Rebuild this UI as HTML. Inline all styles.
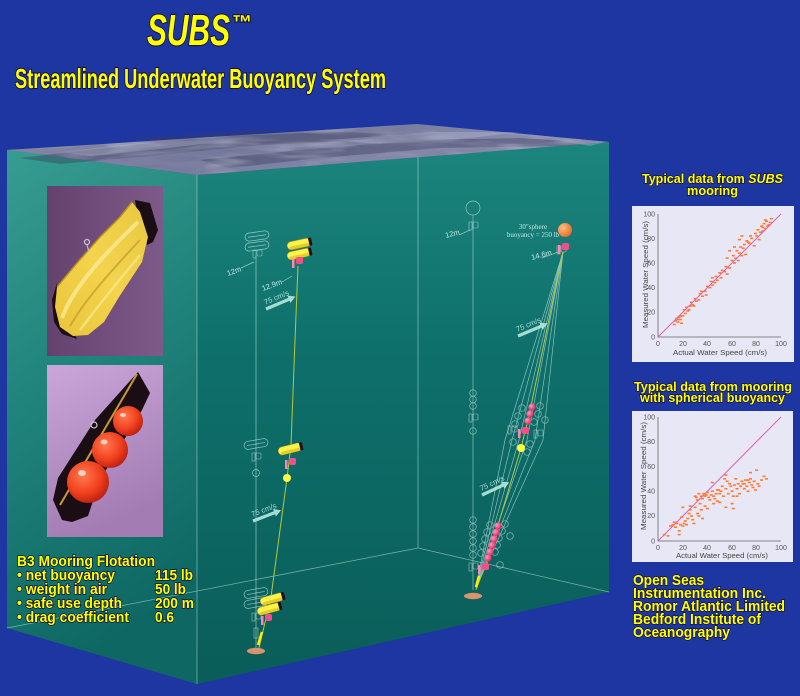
<!DOCTYPE html>
<html><head><meta charset="utf-8">
<style>html,body{margin:0;padding:0;background:#1e36a2;}svg{display:block}</style></head>
<body>
<svg width="800" height="696" viewBox="0 0 800 696" xmlns="http://www.w3.org/2000/svg" font-family="'Liberation Sans', Arial, sans-serif">
<defs>
 <linearGradient id="lf" x1="0" y1="0" x2="0.25" y2="1">
  <stop offset="0" stop-color="#379c91"/><stop offset="0.5" stop-color="#1f827a"/><stop offset="1" stop-color="#0e6762"/>
 </linearGradient>
 <linearGradient id="rf" gradientUnits="userSpaceOnUse" x1="0" y1="142" x2="0" y2="684">
  <stop offset="0" stop-color="#1c857d"/><stop offset="0.4" stop-color="#0e6f6a"/><stop offset="1" stop-color="#0a5d59"/>
 </linearGradient>
 <linearGradient id="sea" x1="0" y1="0" x2="1" y2="0.4">
  <stop offset="0" stop-color="#8a8eae"/><stop offset="0.5" stop-color="#74789a"/><stop offset="1" stop-color="#9094b4"/>
 </linearGradient>
 <filter id="tex" x="0" y="0" width="100%" height="100%">
  <feTurbulence type="fractalNoise" baseFrequency="0.012 0.09" numOctaves="3" seed="5" result="n"/>
  <feColorMatrix in="n" type="matrix" values="0 0 0 0 0.22  0 0 0 0 0.23  0 0 0 0 0.36  3.5 0 0 0 -1.55"/>
  <feComposite in2="SourceGraphic" operator="in"/>
 </filter>
 <filter id="tex2" x="0" y="0" width="100%" height="100%">
  <feTurbulence type="fractalNoise" baseFrequency="0.02 0.12" numOctaves="2" seed="11" result="n"/>
  <feColorMatrix in="n" type="matrix" values="0 0 0 0 0.78  0 0 0 0 0.8  0 0 0 0 0.9  0 2.2 0 0 -1.2"/>
  <feComposite in2="SourceGraphic" operator="in"/>
 </filter>
 <linearGradient id="p1" x1="0" y1="0" x2="1" y2="0">
  <stop offset="0" stop-color="#64426e"/><stop offset="1" stop-color="#7e5a88"/>
 </linearGradient>
 <linearGradient id="p2" x1="0" y1="0" x2="0.3" y2="1">
  <stop offset="0" stop-color="#caa6da"/><stop offset="1" stop-color="#a27cb2"/>
 </linearGradient>
 <linearGradient id="hull" x1="0" y1="1" x2="1" y2="0">
  <stop offset="0" stop-color="#e8c43a"/><stop offset="0.5" stop-color="#f4d44c"/><stop offset="1" stop-color="#e8c840"/>
 </linearGradient>
 <radialGradient id="red" cx="0.38" cy="0.35" r="0.7">
  <stop offset="0" stop-color="#ff7a50"/><stop offset="0.6" stop-color="#f2401e"/><stop offset="1" stop-color="#b81e10"/>
 </radialGradient>
 <radialGradient id="org" cx="0.35" cy="0.35" r="0.7">
  <stop offset="0" stop-color="#ffc080"/><stop offset="1" stop-color="#e86a28"/>
 </radialGradient>
 <radialGradient id="pk" cx="0.35" cy="0.35" r="0.7">
  <stop offset="0" stop-color="#ff9ac0"/><stop offset="1" stop-color="#e0205a"/>
 </radialGradient>
 <g id="flt">
  <rect x="-12" y="-4" width="24" height="8" rx="4" fill="#fff24c" stroke="#b89a00" stroke-width="0.5"/>
  <rect x="-10" y="0.8" width="20" height="3" rx="1.5" fill="#e6cc28"/>
  <rect x="10" y="-4" width="3" height="8" rx="1" fill="#2a0a14"/>
 </g>
 <g id="gflt" fill="none" stroke="#c8ecea" stroke-width="0.7" opacity="0.7">
  <rect x="-12" y="-4" width="24" height="8" rx="4"/>
  <line x1="-9" y1="0" x2="9" y2="0"/>
 </g>
 <g id="pinst">
  <rect x="-5" y="-3" width="2.5" height="9" fill="#ff86b4"/>
  <rect x="-1" y="-5" width="7" height="7" rx="2" fill="#f0508a"/>
 </g>
 <g id="ginst" fill="none" stroke="#c8ecea" stroke-width="0.6" opacity="0.7">
  <rect x="-4" y="-4" width="3" height="8"/>
  <rect x="0" y="-4" width="5" height="6" rx="1"/>
 </g>
</defs>

<rect width="800" height="696" fill="#1e36a2"/>

<!-- Title -->
<g fill="#ffff00" stroke="#16123c" stroke-width="2.2" paint-order="stroke" font-weight="bold">
 <text x="147" y="45" font-size="44" font-style="italic" textLength="83" lengthAdjust="spacingAndGlyphs">SUBS</text>
 <text x="232" y="29" font-size="20" textLength="20" lengthAdjust="spacingAndGlyphs">™</text>
 <text x="15" y="88" font-size="28" textLength="371" lengthAdjust="spacingAndGlyphs">Streamlined Underwater Buoyancy System</text>
</g>

<!-- Box faces -->
<polygon points="7,150 197,175 197,684 7,628" fill="url(#lf)"/>
<polygon points="197,175 609,142 609,592 197,684" fill="url(#rf)"/>
<polygon points="7,150 417,124 609,142 197,175" fill="url(#sea)"/>
<g opacity="0.4" fill="#3a3c5c">
 <polygon points="20,158 120,146 230,136 330,132 410,134 360,140 250,146 150,156 60,164"/>
 <polygon points="200,160 300,150 420,140 520,138 600,143 560,146 440,148 320,158 230,168"/>
 <polygon points="120,140 220,132 300,128 250,134 160,140"/>
</g>
<g opacity="0.3" fill="#c8cce4">
 <polygon points="60,152 150,142 230,140 170,148 90,156"/>
 <polygon points="330,140 430,132 520,132 470,138 380,144"/>
 <polygon points="560,141 605,142 590,146"/>
</g>
<polygon points="7,150 417,124 609,142 197,175" fill="#000" filter="url(#tex)"/>
<polygon points="7,150 417,124 609,142 197,175" fill="#000" filter="url(#tex2)" opacity="0.45"/>
<!-- inner edges -->
<g stroke="#b6e2dc" stroke-width="0.8" opacity="0.6" fill="none">
 <line x1="197" y1="175" x2="197" y2="684"/>
 <line x1="418" y1="157" x2="418" y2="548"/>
 <line x1="7" y1="628" x2="418" y2="548"/>
 <line x1="418" y1="548" x2="609" y2="592"/>
</g>

<!-- Photo 1 -->
<rect x="47" y="186" width="116" height="170" fill="url(#p1)"/>
<polygon points="135,200 150,203 158,230 153,242 147,245 145,230 137,213" fill="#1a0d14"/>
<polygon points="57,283 52,300 54,322 62,334 77,339 72,330 60,320 58,300" fill="#1a0d14"/>
<polygon points="132,202 140,212 148,237 142,262 119,297 104,322 88,335 73,336 60,327 55,307 57,287 77,263 100,237 120,217" fill="url(#hull)"/>
<path d="M62,318 C72,290 100,258 138,222" fill="none" stroke="#fae890" stroke-width="4" opacity="0.85"/>
<path d="M70,326 C85,300 110,272 140,240" fill="none" stroke="#c8a030" stroke-width="2" opacity="0.8"/>
<path d="M80,330 C95,310 115,285 140,255" fill="none" stroke="#fae890" stroke-width="2.5" opacity="0.7"/>
<path d="M57,287 L77,263 L100,237 L120,217 L132,202" fill="none" stroke="#b89020" stroke-width="1.5"/>
<circle cx="87" cy="242" r="2.5" fill="none" stroke="#ccc" stroke-width="1.2"/>
<line x1="87" y1="245" x2="89" y2="252" stroke="#bbb" stroke-width="1.2"/>

<!-- Photo 2 -->
<rect x="47" y="365" width="116" height="172" fill="url(#p2)"/>
<polygon points="138,372 150,393 142,410 100,480 88,516 72,522 62,520 53,500 58,478 95,420" fill="#1a0d14"/>
<line x1="60" y1="505" x2="137" y2="374" stroke="#c89a30" stroke-width="2"/>
<circle cx="128" cy="421" r="15" fill="url(#red)"/>
<circle cx="110" cy="450" r="18" fill="url(#red)"/>
<circle cx="88" cy="482" r="21" fill="url(#red)"/>
<ellipse cx="123" cy="415" rx="3" ry="2" fill="#ffd0c0"/>
<ellipse cx="104" cy="442" rx="3.5" ry="2.5" fill="#ffd0c0"/>
<ellipse cx="82" cy="473" rx="4" ry="3" fill="#ffd0c0"/>
<circle cx="94" cy="425" r="3" fill="none" stroke="#ccc" stroke-width="1.2"/>

<!-- B3 text -->
<g fill="#ffff00" stroke="#16123c" stroke-width="1.6" paint-order="stroke" font-weight="bold" font-size="15">
 <text x="17" y="566" textLength="138" lengthAdjust="spacingAndGlyphs">B3 Mooring Flotation</text>
 <text x="17" y="580" textLength="98" lengthAdjust="spacingAndGlyphs">• net buoyancy</text>
 <text x="17" y="594" textLength="90" lengthAdjust="spacingAndGlyphs">• weight in air</text>
 <text x="17" y="608" textLength="105" lengthAdjust="spacingAndGlyphs">• safe use depth</text>
 <text x="17" y="622" textLength="112" lengthAdjust="spacingAndGlyphs">• drag coefficient</text>
 <text x="155" y="580" textLength="38" lengthAdjust="spacingAndGlyphs">115 lb</text>
 <text x="155" y="594" textLength="31" lengthAdjust="spacingAndGlyphs">50 lb</text>
 <text x="155" y="608" textLength="39" lengthAdjust="spacingAndGlyphs">200 m</text>
 <text x="155" y="622" textLength="19" lengthAdjust="spacingAndGlyphs">0.6</text>
</g>

<!-- LEFT MOORING (SUBS) -->
<g stroke="#c8ecea" stroke-width="0.7" opacity="0.7" fill="none">
 <line x1="256" y1="256" x2="256" y2="648"/>
 <circle cx="256" cy="473" r="3.5"/>
 <line x1="241" y1="268" x2="254" y2="262"/>
 <line x1="282" y1="282" x2="292" y2="276"/>
</g>
<use href="#gflt" transform="translate(257,236) rotate(-8)"/>
<use href="#gflt" transform="translate(257,246) rotate(-8)"/>
<use href="#ginst" transform="translate(257,254)"/>
<use href="#gflt" transform="translate(256,444) rotate(-10)"/>
<use href="#ginst" transform="translate(256,457)"/>
<use href="#gflt" transform="translate(256,593) rotate(-10)"/>
<use href="#gflt" transform="translate(256,603) rotate(-10)"/>
<use href="#ginst" transform="translate(256,617)"/>
<rect x="254" y="628" width="4" height="10" fill="none" stroke="#c8ecea" stroke-width="0.6" opacity="0.7"/>

<path d="M298,266 L295,340 L291,445 L287,478 L271,597 L259,648" fill="none" stroke="#b6c840" stroke-width="1"/>
<use href="#flt" transform="translate(299,244) rotate(-12)"/>
<use href="#flt" transform="translate(299,254) rotate(-12)"/>
<use href="#pinst" transform="translate(297,262)"/>
<use href="#flt" transform="translate(290,449) rotate(-14)"/>
<use href="#pinst" transform="translate(290,463)"/>
<circle cx="287" cy="478" r="4" fill="#ffff40"/>
<use href="#flt" transform="translate(272,599) rotate(-15)"/>
<use href="#flt" transform="translate(269,609) rotate(-15)"/>
<use href="#pinst" transform="translate(266,619)"/>
<line x1="262" y1="632" x2="258" y2="645" stroke="#ffee00" stroke-width="2.5"/>
<ellipse cx="256" cy="651" rx="9" ry="3.2" fill="#d8946c"/>

<g fill="#c0e8e4" font-size="7.5">
 <text transform="translate(228,276) rotate(-20)">12m</text>
 <text transform="translate(263,291) rotate(-20)">12.9m</text>
</g>

<!-- arrows -->
<g fill="#a6dcd4">
 <g transform="translate(266,309) rotate(-23)"><rect x="0" y="-1.6" width="26" height="3.2"/><polygon points="25,-4 32,0 25,4"/><text x="1" y="-4" font-size="7.5">75 cm/s</text></g>
 <g transform="translate(253,521) rotate(-21)"><rect x="0" y="-1.6" width="24" height="3.2"/><polygon points="23,-4 30,0 23,4"/><text x="1" y="-4" font-size="7.5">75 cm/s</text></g>
 <g transform="translate(518,336) rotate(-23)"><rect x="0" y="-1.6" width="26" height="3.2"/><polygon points="25,-4 32,0 25,4"/><text x="1" y="-4" font-size="7.5">75 cm/s</text></g>
 <g transform="translate(482,495) rotate(-25)"><rect x="0" y="-1.6" width="24" height="3.2"/><polygon points="23,-4 30,0 23,4"/><text x="1" y="-4" font-size="7.5">75 cm/s</text></g>
</g>

<!-- RIGHT MOORING (sphere) -->
<g stroke="#c8ecea" stroke-width="0.7" opacity="0.65" fill="none">
 <line x1="473" y1="215" x2="473" y2="590"/>
 <circle cx="473" cy="208" r="7"/>
 <line x1="459" y1="235" x2="470" y2="230"/>
 <circle cx="473" cy="393" r="3.3"/><circle cx="473" cy="399.5" r="3.3"/><circle cx="473" cy="406" r="3.3"/>
 <circle cx="473" cy="431" r="3.3"/>
 <circle cx="473" cy="520" r="3.3"/><circle cx="473" cy="527" r="3.3"/><circle cx="473" cy="534" r="3.3"/>
 <circle cx="473" cy="541" r="3.3"/><circle cx="473" cy="548" r="3.3"/><circle cx="473" cy="555" r="3.3"/>
 <line x1="558" y1="252" x2="542" y2="258"/>
 <path d="M563,252 L505,440 L476,588"/>
 <path d="M563,252 L512,440 L476,588"/>
 <path d="M563,252 L519,440 L476,588"/>
 <path d="M563,252 L527,440 L476,588"/>
 <path d="M563,252 L535,440 L476,588"/>
 <path d="M563,252 L543,440 L476,588"/>
 <circle cx="522" cy="408" r="3.3"/><circle cx="540" cy="406" r="3.3"/><circle cx="518" cy="416" r="3.3"/><circle cx="538" cy="414" r="3.3"/>
 <circle cx="515" cy="424" r="3.3"/><circle cx="534" cy="422" r="3.3"/><circle cx="545" cy="420" r="3.3"/>
 <circle cx="513" cy="442" r="3.3"/><circle cx="530" cy="444" r="3.3"/><circle cx="527" cy="452" r="3.3"/>
 <circle cx="490" cy="525" r="3.3"/><circle cx="505" cy="524" r="3.3"/><circle cx="487" cy="532" r="3.3"/><circle cx="502" cy="531" r="3.3"/>
 <circle cx="485" cy="539" r="3.3"/><circle cx="499" cy="538" r="3.3"/><circle cx="510" cy="536" r="3.3"/>
 <circle cx="483" cy="546" r="3.3"/><circle cx="497" cy="545" r="3.3"/><circle cx="481" cy="553" r="3.3"/><circle cx="495" cy="552" r="3.3"/>
 <circle cx="500" cy="565" r="3.3"/>
</g>
<use href="#ginst" transform="translate(473,226)"/>
<use href="#ginst" transform="translate(473,418)"/>
<use href="#ginst" transform="translate(473,567)"/>
<use href="#ginst" transform="translate(512,430)"/>
<use href="#ginst" transform="translate(538,434)"/>
<use href="#ginst" transform="translate(561,250)"/>

<path d="M563,252 L528,420 L521,448 L490,552 L476,590" fill="none" stroke="#b6c840" stroke-width="1"/>
<circle cx="565" cy="230" r="7" fill="url(#org)"/>
<use href="#pinst" transform="translate(563,248)"/>
<circle cx="532" cy="407" r="3.6" fill="url(#pk)"/>
<circle cx="530" cy="414" r="3.6" fill="url(#pk)"/>
<circle cx="528" cy="421" r="3.6" fill="url(#pk)"/>
<use href="#pinst" transform="translate(523,432)"/>
<circle cx="521" cy="448" r="4" fill="#ffff40"/>
<circle cx="498" cy="526" r="3.6" fill="url(#pk)"/>
<circle cx="496" cy="532.5" r="3.6" fill="url(#pk)"/>
<circle cx="494" cy="539" r="3.6" fill="url(#pk)"/>
<circle cx="492" cy="545.5" r="3.6" fill="url(#pk)"/>
<circle cx="490" cy="552" r="3.6" fill="url(#pk)"/>
<circle cx="488" cy="558" r="3.6" fill="url(#pk)"/>
<use href="#pinst" transform="translate(483,568)"/>
<line x1="479" y1="576" x2="476" y2="587" stroke="#ffee00" stroke-width="2.5"/>
<ellipse cx="473" cy="596" rx="9" ry="3.2" fill="#d8946c"/>

<g fill="#c0e8e4" font-size="7.5">
 <text transform="translate(446,238) rotate(-15)">12m</text>
 <text transform="translate(532,260) rotate(-15)">14.6m</text>
</g>
<g fill="#c8e8e4" font-size="7" font-family="'Liberation Serif', serif" text-anchor="middle">
 <text x="533" y="229">30"sphere</text>
 <text x="533" y="237">buoyancy = 250 lb</text>
</g>

<!-- Chart titles -->
<g fill="#ffff00" stroke="#16123c" stroke-width="1.4" paint-order="stroke" font-weight="bold" font-size="12.5">
 <text x="642" y="183" textLength="141" lengthAdjust="spacingAndGlyphs">Typical data from <tspan font-style="italic">SUBS</tspan></text>
 <text x="687" y="195" textLength="51" lengthAdjust="spacingAndGlyphs">mooring</text>
 <text x="634" y="391" textLength="158" lengthAdjust="spacingAndGlyphs">Typical data from mooring</text>
 <text x="640" y="402" textLength="145" lengthAdjust="spacingAndGlyphs">with spherical buoyancy</text>
</g>
<rect x="632" y="206" width="162" height="156" fill="#e7e7f5"/>
<rect x="632" y="411" width="161" height="151" fill="#e7e7f5"/>

<g stroke="#666" stroke-width="0.8" fill="none">
 <polyline points="658,214 658,337 781,337"/>
 <polyline points="658,417 658,541 781,541"/>
</g>
<g fill="#555" font-size="7">
 <g text-anchor="end">
  <text x="655" y="216.5">100</text><text x="655" y="241">80</text><text x="655" y="265.5">60</text>
  <text x="655" y="290">40</text><text x="655" y="314.5">20</text><text x="655" y="339.5">0</text>
  <text x="655" y="419.5">100</text><text x="655" y="444">80</text><text x="655" y="469">60</text>
  <text x="655" y="493.5">40</text><text x="655" y="518">20</text><text x="655" y="543.5">0</text>
 </g>
 <g text-anchor="middle">
  <text x="658" y="346">0</text><text x="683" y="346">20</text><text x="707" y="346">40</text>
  <text x="732" y="346">60</text><text x="756" y="346">80</text><text x="781" y="346">100</text>
  <text x="658" y="550">0</text><text x="683" y="550">20</text><text x="707" y="550">40</text>
  <text x="732" y="550">60</text><text x="756" y="550">80</text><text x="781" y="550">100</text>
 </g>
</g>
<g fill="#444" font-size="7.5">
 <text x="673" y="355" textLength="94" lengthAdjust="spacingAndGlyphs">Actual Water Speed (cm/s)</text>
 <text x="676" y="558" textLength="92" lengthAdjust="spacingAndGlyphs">Actual Water Speed (cm/s)</text>
 <text transform="translate(648,328) rotate(-90)" textLength="107" lengthAdjust="spacingAndGlyphs">Measured Water Speed (cm/s)</text>
 <text transform="translate(646,530) rotate(-90)" textLength="108" lengthAdjust="spacingAndGlyphs">Measured Water Speed (cm/s)</text>
</g>

<g transform="translate(658,337) scale(1.23,-1.23)">
 <g fill="#ff7a30">
  <rect x="12" y="9.5" width="2.4" height="1.3"/><rect x="13" y="12.5" width="2.4" height="1.3"/><rect x="14" y="14.5" width="2.4" height="1.3"/>
  <rect x="15" y="11.5" width="2.4" height="1.3"/><rect x="16" y="15.5" width="2.4" height="1.3"/><rect x="17" y="13.5" width="2.4" height="1.3"/>
  <rect x="18" y="10.5" width="2.4" height="1.3"/><rect x="19" y="16.5" width="2.4" height="1.3"/><rect x="20" y="21.5" width="2.4" height="1.3"/>
  <rect x="21" y="18.5" width="2.4" height="1.3"/><rect x="22" y="23.5" width="2.4" height="1.3"/><rect x="23" y="20.5" width="2.4" height="1.3"/>
  <rect x="25" y="24.5" width="2.4" height="1.3"/><rect x="26" y="27.5" width="2.4" height="1.3"/><rect x="27" y="25.5" width="2.4" height="1.3"/>
  <rect x="29" y="30.5" width="2.4" height="1.3"/><rect x="30" y="28.5" width="2.4" height="1.3"/><rect x="32" y="29.5" width="2.4" height="1.3"/>
  <rect x="33" y="34.5" width="2.4" height="1.3"/><rect x="35" y="32.5" width="2.4" height="1.3"/><rect x="37" y="36.5" width="2.4" height="1.3"/>
  <rect x="38" y="33.5" width="2.4" height="1.3"/><rect x="39" y="40.5" width="2.4" height="1.3"/><rect x="41" y="39.5" width="2.4" height="1.3"/>
  <rect x="42" y="44.5" width="2.4" height="1.3"/><rect x="43" y="41.5" width="2.4" height="1.3"/><rect x="45" y="43.5" width="2.4" height="1.3"/>
  <rect x="46" y="48.5" width="2.4" height="1.3"/><rect x="47" y="45.5" width="2.4" height="1.3"/><rect x="49" y="51.5" width="2.4" height="1.3"/>
  <rect x="50" y="47.5" width="2.4" height="1.3"/><rect x="51" y="53.5" width="2.4" height="1.3"/><rect x="53" y="52.5" width="2.4" height="1.3"/>
  <rect x="54" y="56.5" width="2.4" height="1.3"/><rect x="55" y="50.5" width="2.4" height="1.3"/><rect x="57" y="55.5" width="2.4" height="1.3"/>
  <rect x="59" y="61.5" width="2.4" height="1.3"/><rect x="60" y="65.5" width="2.4" height="1.3"/><rect x="61" y="59.5" width="2.4" height="1.3"/>
  <rect x="62" y="63.5" width="2.4" height="1.3"/><rect x="63" y="69.5" width="2.4" height="1.3"/><rect x="64" y="61.5" width="2.4" height="1.3"/>
  <rect x="65" y="67.5" width="2.4" height="1.3"/><rect x="66" y="72.5" width="2.4" height="1.3"/><rect x="67" y="65.5" width="2.4" height="1.3"/>
  <rect x="68" y="71.5" width="2.4" height="1.3"/><rect x="69" y="74.5" width="2.4" height="1.3"/><rect x="70" y="66.5" width="2.4" height="1.3"/>
  <rect x="71" y="77.5" width="2.4" height="1.3"/><rect x="73" y="75.5" width="2.4" height="1.3"/><rect x="74" y="81.5" width="2.4" height="1.3"/>
  <rect x="75" y="79.5" width="2.4" height="1.3"/><rect x="77" y="73.5" width="2.4" height="1.3"/><rect x="78" y="83.5" width="2.4" height="1.3"/>
  <rect x="79" y="81.5" width="2.4" height="1.3"/><rect x="80" y="86.5" width="2.4" height="1.3"/><rect x="81" y="78.5" width="2.4" height="1.3"/>
  <rect x="82" y="84.5" width="2.4" height="1.3"/><rect x="83" y="89.5" width="2.4" height="1.3"/><rect x="84" y="85.5" width="2.4" height="1.3"/>
  <rect x="85" y="91.5" width="2.4" height="1.3"/><rect x="86" y="87.5" width="2.4" height="1.3"/><rect x="87" y="93.5" width="2.4" height="1.3"/>
  <rect x="88" y="89.5" width="2.4" height="1.3"/><rect x="89" y="90.5" width="2.4" height="1.3"/><rect x="90" y="92.5" width="2.4" height="1.3"/>
  <rect x="91" y="95.5" width="2.4" height="1.3"/><rect x="84" y="88.5" width="2.4" height="1.3"/><rect x="86" y="94.5" width="2.4" height="1.3"/>
  <rect x="61" y="72.5" width="2.4" height="1.3"/><rect x="57" y="69.5" width="2.4" height="1.3"/><rect x="72" y="76.5" width="2.4" height="1.3"/>
  <rect x="65" y="78.5" width="2.4" height="1.3"/><rect x="55" y="63.5" width="2.4" height="1.3"/><rect x="43" y="47.5" width="2.4" height="1.3"/>
  <rect x="34" y="36.5" width="2.4" height="1.3"/><rect x="28" y="24.5" width="2.4" height="1.3"/><rect x="24" y="21.5" width="2.4" height="1.3"/>
  <rect x="17" y="16.5" width="2.4" height="1.3"/><rect x="15" y="13.5" width="2.4" height="1.3"/><rect x="67" y="81.5" width="2.4" height="1.3"/>
 </g>
 <line x1="0" y1="0" x2="100" y2="100" stroke="#e060b0" stroke-width="1" vector-effect="non-scaling-stroke"/>
</g>

<g transform="translate(658,541) scale(1.23,-1.24)">
 <line x1="0" y1="0" x2="100" y2="100" stroke="#e060b0" stroke-width="1" vector-effect="non-scaling-stroke"/>
 <g fill="#ff7a30">
  <rect x="4" y="4.5" width="2.4" height="1.3"/><rect x="7" y="3.5" width="2.4" height="1.3"/><rect x="9" y="11.5" width="2.4" height="1.3"/>
  <rect x="11" y="12.5" width="2.4" height="1.3"/><rect x="12" y="14.5" width="2.4" height="1.3"/><rect x="13" y="10.5" width="2.4" height="1.3"/>
  <rect x="14" y="13.5" width="2.4" height="1.3"/><rect x="16" y="7.5" width="2.4" height="1.3"/><rect x="16" y="4.5" width="2.4" height="1.3"/>
  <rect x="17" y="12.5" width="2.4" height="1.3"/><rect x="18" y="18.5" width="2.4" height="1.3"/><rect x="19" y="11.5" width="2.4" height="1.3"/>
  <rect x="20" y="13.5" width="2.4" height="1.3"/><rect x="21" y="15.5" width="2.4" height="1.3"/><rect x="22" y="12.5" width="2.4" height="1.3"/>
  <rect x="23" y="17.5" width="2.4" height="1.3"/><rect x="24" y="21.5" width="2.4" height="1.3"/><rect x="25" y="24.5" width="2.4" height="1.3"/>
  <rect x="26" y="19.5" width="2.4" height="1.3"/><rect x="27" y="16.5" width="2.4" height="1.3"/><rect x="28" y="13.5" width="2.4" height="1.3"/>
  <rect x="29" y="35.5" width="2.4" height="1.3"/><rect x="30" y="34.5" width="2.4" height="1.3"/><rect x="31" y="32.5" width="2.4" height="1.3"/>
  <rect x="32" y="37.5" width="2.4" height="1.3"/><rect x="33" y="29.5" width="2.4" height="1.3"/><rect x="34" y="35.5" width="2.4" height="1.3"/>
  <rect x="35" y="33.5" width="2.4" height="1.3"/><rect x="36" y="37.5" width="2.4" height="1.3"/><rect x="37" y="35.5" width="2.4" height="1.3"/>
  <rect x="38" y="36.5" width="2.4" height="1.3"/><rect x="39" y="38.5" width="2.4" height="1.3"/><rect x="40" y="34.5" width="2.4" height="1.3"/>
  <rect x="41" y="32.5" width="2.4" height="1.3"/><rect x="42" y="36.5" width="2.4" height="1.3"/><rect x="43" y="39.5" width="2.4" height="1.3"/>
  <rect x="44" y="35.5" width="2.4" height="1.3"/><rect x="45" y="33.5" width="2.4" height="1.3"/><rect x="46" y="37.5" width="2.4" height="1.3"/>
  <rect x="47" y="31.5" width="2.4" height="1.3"/><rect x="48" y="40.5" width="2.4" height="1.3"/><rect x="49" y="37.5" width="2.4" height="1.3"/>
  <rect x="50" y="39.5" width="2.4" height="1.3"/><rect x="51" y="43.5" width="2.4" height="1.3"/><rect x="52" y="35.5" width="2.4" height="1.3"/>
  <rect x="53" y="49.5" width="2.4" height="1.3"/><rect x="54" y="41.5" width="2.4" height="1.3"/><rect x="55" y="47.5" width="2.4" height="1.3"/>
  <rect x="56" y="37.5" width="2.4" height="1.3"/><rect x="57" y="45.5" width="2.4" height="1.3"/><rect x="58" y="43.5" width="2.4" height="1.3"/>
  <rect x="59" y="39.5" width="2.4" height="1.3"/><rect x="60" y="35.5" width="2.4" height="1.3"/><rect x="61" y="44.5" width="2.4" height="1.3"/>
  <rect x="62" y="49.5" width="2.4" height="1.3"/><rect x="63" y="41.5" width="2.4" height="1.3"/><rect x="64" y="45.5" width="2.4" height="1.3"/>
  <rect x="65" y="37.5" width="2.4" height="1.3"/><rect x="66" y="43.5" width="2.4" height="1.3"/><rect x="67" y="47.5" width="2.4" height="1.3"/>
  <rect x="68" y="45.5" width="2.4" height="1.3"/><rect x="69" y="41.5" width="2.4" height="1.3"/><rect x="70" y="48.5" width="2.4" height="1.3"/>
  <rect x="71" y="43.5" width="2.4" height="1.3"/><rect x="72" y="39.5" width="2.4" height="1.3"/><rect x="73" y="46.5" width="2.4" height="1.3"/>
  <rect x="74" y="49.5" width="2.4" height="1.3"/><rect x="75" y="44.5" width="2.4" height="1.3"/><rect x="76" y="42.5" width="2.4" height="1.3"/>
  <rect x="77" y="47.5" width="2.4" height="1.3"/><rect x="78" y="40.5" width="2.4" height="1.3"/><rect x="79" y="56.5" width="2.4" height="1.3"/>
  <rect x="80" y="45.5" width="2.4" height="1.3"/><rect x="81" y="43.5" width="2.4" height="1.3"/><rect x="83" y="48.5" width="2.4" height="1.3"/>
  <rect x="85" y="51.5" width="2.4" height="1.3"/><rect x="87" y="49.5" width="2.4" height="1.3"/><rect x="74" y="54.5" width="2.4" height="1.3"/>
  <rect x="29" y="26.5" width="2.4" height="1.3"/><rect x="31" y="21.5" width="2.4" height="1.3"/><rect x="34" y="24.5" width="2.4" height="1.3"/>
  <rect x="37" y="27.5" width="2.4" height="1.3"/><rect x="39" y="25.5" width="2.4" height="1.3"/><rect x="32" y="19.5" width="2.4" height="1.3"/>
  <rect x="35" y="17.5" width="2.4" height="1.3"/><rect x="44" y="29.5" width="2.4" height="1.3"/><rect x="49" y="30.5" width="2.4" height="1.3"/>
  <rect x="54" y="26.5" width="2.4" height="1.3"/><rect x="59" y="29.5" width="2.4" height="1.3"/><rect x="19" y="26.5" width="2.4" height="1.3"/>
  <rect x="25" y="27.5" width="2.4" height="1.3"/><rect x="43" y="46.5" width="2.4" height="1.3"/><rect x="54" y="52.5" width="2.4" height="1.3"/>
  <rect x="47" y="40.5" width="2.4" height="1.3"/><rect x="63" y="35.5" width="2.4" height="1.3"/><rect x="69" y="45.5" width="2.4" height="1.3"/>
  <rect x="72" y="48.5" width="2.4" height="1.3"/><rect x="60" y="25.5" width="2.4" height="1.3"/>
 </g>
</g>

<!-- Credits -->
<g fill="#ffff00" stroke="#16123c" stroke-width="1.4" paint-order="stroke" font-weight="bold" font-size="15">
 <text x="633" y="585" textLength="71" lengthAdjust="spacingAndGlyphs">Open Seas</text>
 <text x="633" y="598" textLength="133" lengthAdjust="spacingAndGlyphs">Instrumentation Inc.</text>
 <text x="633" y="611" textLength="152" lengthAdjust="spacingAndGlyphs">Romor Atlantic Limited</text>
 <text x="633" y="624" textLength="128" lengthAdjust="spacingAndGlyphs">Bedford Institute of</text>
 <text x="633" y="637" textLength="97" lengthAdjust="spacingAndGlyphs">Oceanography</text>
</g>
</svg>
</body></html>
